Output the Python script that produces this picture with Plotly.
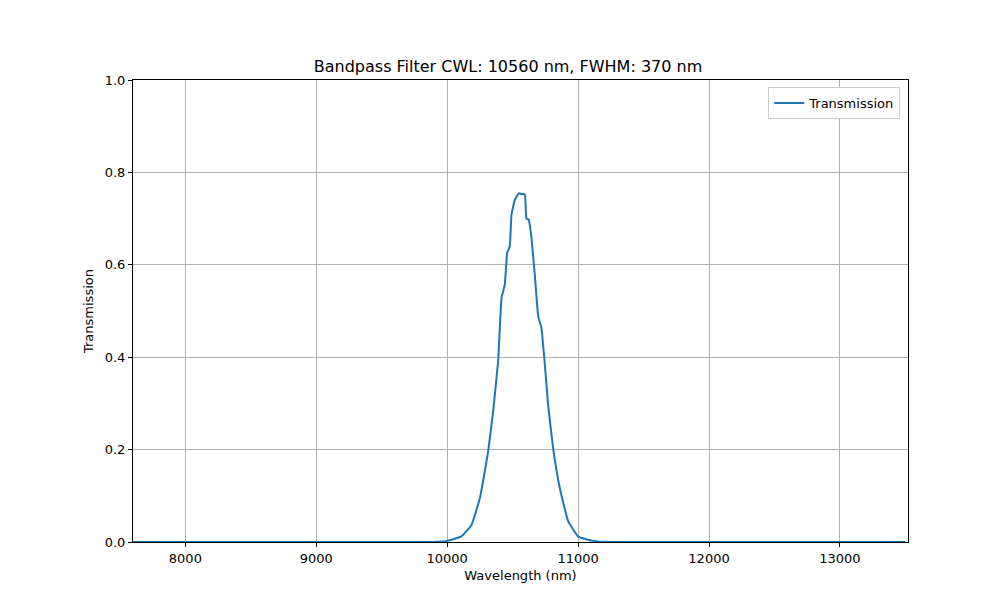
import plotly.graph_objects as go

# wavelength (nm) and transmission
wavelength = [7600, 8500, 9500, 9900, 10008, 10109, 10186, 10250, 10313, 10351, 10389,
              10415, 10440, 10458, 10478, 10491, 10517, 10547, 10567, 10593, 10605,
              10623, 10644, 10669, 10695, 10720, 10746, 10771, 10809, 10860, 10924,
              11000, 11102, 11200, 11300, 12500, 13500]
transmission = [0, 0, 0, 0.0003, 0.003, 0.012, 0.037, 0.095, 0.196, 0.283, 0.391,
                0.528, 0.557, 0.626, 0.640, 0.708, 0.741, 0.755, 0.753, 0.753, 0.700,
                0.698, 0.658, 0.579, 0.489, 0.463, 0.384, 0.297, 0.203, 0.117, 0.045,
                0.012, 0.003, 0.0005, 0, 0, 0]

x_ticks = [8000, 9000, 10000, 11000, 12000, 13000]
x_labels = ["8000", "9000", "10000", "11000", "12000", "13000"]
y_ticks = [0.0, 0.2, 0.4, 0.6, 0.8, 1.0]

fig = go.Figure()
fig.add_trace(go.Scatter(x=wavelength, y=transmission, mode="lines", name="Transmission",
                         line=dict(color="#1f77b4", width=2, shape="spline", smoothing=0.3)))

axis_common = dict(showgrid=True, gridcolor="#b0b0b0", gridwidth=1, showline=True,
                   linecolor="black", linewidth=1, mirror=True, ticks="outside",
                   ticklen=4, tickcolor="black", zeroline=False, automargin=False,
                   tickfont=dict(size=13))

fig.update_layout(
    width=1000, height=600,
    paper_bgcolor="white", plot_bgcolor="white",
    margin=dict(l=125, r=100, t=72, b=66, pad=0),
    font=dict(family="DejaVu Sans", size=13, color="black"),
    title=dict(text="Bandpass Filter CWL: 10560 nm, FWHM: 370 nm", x=0.5, xanchor="center",
               y=0.903, yanchor="middle", font=dict(size=16)),
    xaxis=dict(title=dict(text="Wavelength (nm)", standoff=6, font=dict(size=13)),
               range=[7600, 13520], tickvals=x_ticks, ticktext=x_labels, **axis_common),
    yaxis=dict(title=dict(text="Transmission", standoff=8, font=dict(size=13)),
               range=[0, 1], tickvals=y_ticks, tickformat=".1f", **axis_common),
    showlegend=True,
    legend=dict(x=0.99, y=0.985, xanchor="right", yanchor="top", bordercolor="#cccccc",
                borderwidth=1, bgcolor="white", font=dict(size=13)),
)

fig.write_html("out.html")
